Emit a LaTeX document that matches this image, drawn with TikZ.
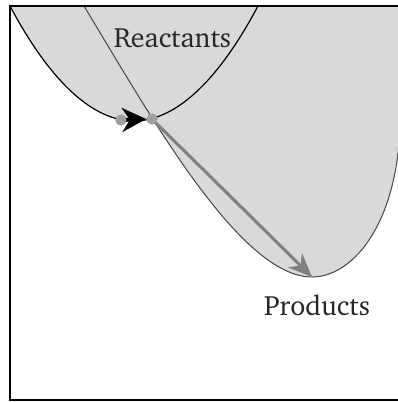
\documentclass[tikz,border=0pt]{standalone}
\usepackage[T1]{fontenc}
\usepackage{charter}
\usetikzlibrary{arrows.meta}

\begin{document}
\begin{tikzpicture}[
  x=0.5bp, y=-0.5bp,
  dot/.style={circle, fill=gray!75, inner sep=0pt, minimum size=5.5bp},
  label/.style={font=\fontsize{14}{16}\selectfont, text=black!85},
  hop/.style={-{Stealth[length=12bp, width=12bp]}, line width=2bp},
  slide/.style={-{Stealth[length=12bp, width=10bp]}, line width=1.5bp, draw=gray, fill=gray},
]
\useasboundingbox (0,0) rectangle (398,402);

\begin{scope}
  \clip (10,6) rectangle (420,400);
  % the two wells
  \fill[gray!30] (10,6) parabola bend (134,121) (258,6) -- cycle;
  \fill[gray!30] (84,6) .. controls (150,115) and (240,277) .. (312,277)
    .. controls (350,277) and (395,230) .. (400,130) -- (420,130) -- (420,0) -- (70,0) -- cycle;
  \draw[gray!55!black, line width=0.5bp] (70,-17) -- (84,6) .. controls (150,115) and (240,277) .. (312,277)
    .. controls (350,277) and (395,230) .. (400,130) -- (402,90);
  \draw[black, line width=0.6bp] (10,6) parabola bend (134,121) (258,6);
\end{scope}

% frame
\draw[line width=0.8bp] (420,6) -- (10,6) -- (10,400) -- (420,400);

\node[dot] (start) at (121,120) {};
\node[dot] (ts) at (152,119) {};
\coordinate (pmin) at (312,277);

\draw[hop] (start.center) -- (ts.west);
\draw[slide] (ts.center) -- (pmin);
\node[dot] at (start) {};
\node[dot] at (ts) {};

\node[label] (reac) at (172.5,38) {Reactants};
\node[label] (prod) at (317,305) {Products};

\end{tikzpicture}
\end{document}
